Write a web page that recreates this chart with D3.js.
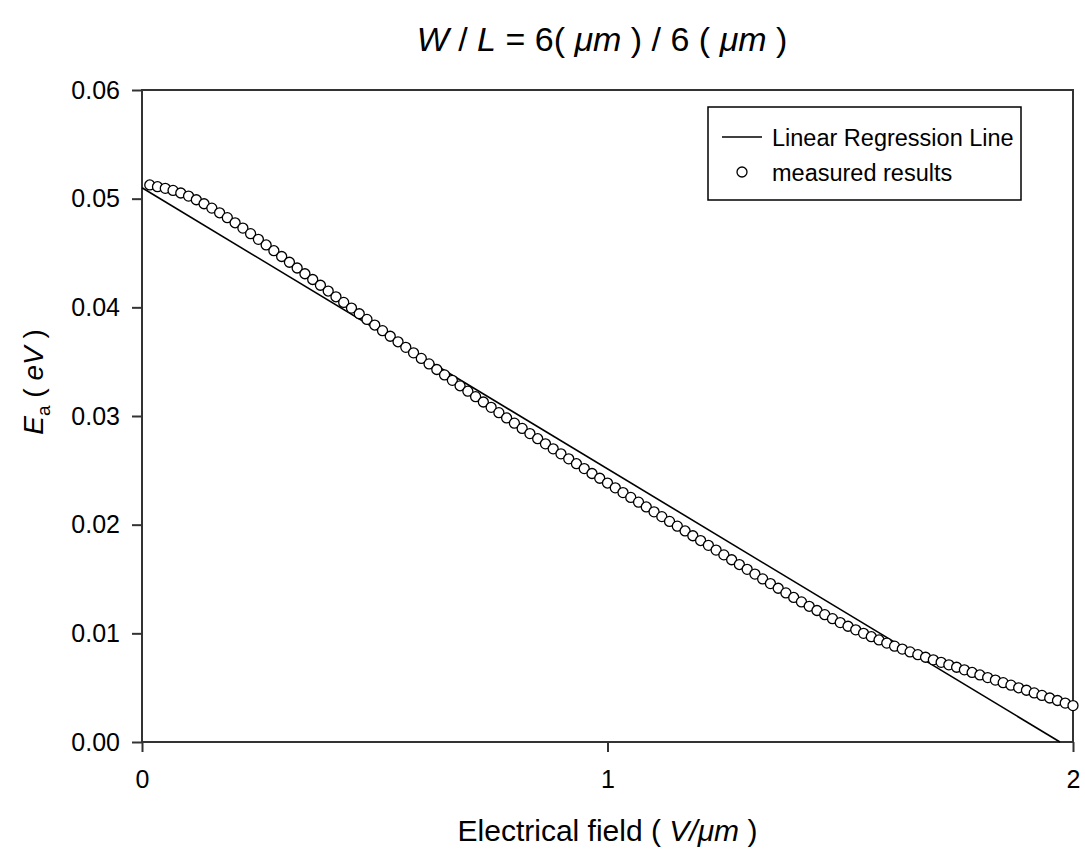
<!DOCTYPE html>
<html><head><meta charset="utf-8">
<script src="https://cdn.jsdelivr.net/npm/d3@7"></script>
<style>body{margin:0;background:#fff}svg{display:block;font-family:"Liberation Sans",Arial,sans-serif}</style>
</head><body><svg id="c" width="1085" height="854"></svg>
<script>
// ---- data ----
const fieldX = [0.0167,0.0333,0.05,0.0667,0.0833,0.1,0.1167,0.1333,0.15,0.1667,0.1833,0.2,0.2167,0.2333,0.25,0.2667,0.2833,0.3,0.3167,0.3333,0.35,0.3667,0.3833,0.4,0.4167,0.4333,0.45,0.4667,0.4833,0.5,0.5167,0.5333,0.55,0.5667,0.5833,0.6,0.6167,0.6333,0.65,0.6667,0.6833,0.7,0.7167,0.7333,0.75,0.7667,0.7833,0.8,0.8167,0.8333,0.85,0.8667,0.8833,0.9,0.9167,0.9333,0.95,0.9667,0.9833,1.0,1.0167,1.0333,1.05,1.0667,1.0833,1.1,1.1167,1.1333,1.15,1.1667,1.1833,1.2,1.2167,1.2333,1.25,1.2667,1.2833,1.3,1.3167,1.3333,1.35,1.3667,1.3833,1.4,1.4167,1.4333,1.45,1.4667,1.4833,1.5,1.5167,1.5333,1.55,1.5667,1.5833,1.6,1.6167,1.6333,1.65,1.6667,1.6833,1.7,1.7167,1.7333,1.75,1.7667,1.7833,1.8,1.8167,1.8333,1.85,1.8667,1.8833,1.9,1.9167,1.9333,1.95,1.9667,1.9833,2.0];
const measuredEa = [0.05126,0.05110,0.05095,0.05076,0.05052,0.05024,0.04990,0.04953,0.04913,0.04870,0.04825,0.04778,0.04729,0.04678,0.04626,0.04574,0.04521,0.04468,0.04415,0.04362,0.04309,0.04256,0.04203,0.04150,0.04097,0.04045,0.03993,0.03941,0.03889,0.03837,0.03785,0.03734,0.03683,0.03632,0.03581,0.03530,0.03479,0.03428,0.03378,0.03328,0.03278,0.03228,0.03178,0.03129,0.03080,0.03031,0.02982,0.02934,0.02886,0.02838,0.02791,0.02744,0.02698,0.02652,0.02606,0.02561,0.02516,0.02471,0.02427,0.02383,0.02339,0.02295,0.02251,0.02207,0.02163,0.02118,0.02074,0.02030,0.01986,0.01942,0.01898,0.01854,0.01810,0.01766,0.01722,0.01677,0.01633,0.01589,0.01545,0.01501,0.01458,0.01415,0.01372,0.01330,0.01289,0.01249,0.01210,0.01172,0.01135,0.01099,0.01065,0.01032,0.01000,0.00969,0.00939,0.00910,0.00882,0.00855,0.00829,0.00804,0.00780,0.00756,0.00733,0.00710,0.00688,0.00664,0.00640,0.00617,0.00593,0.00570,0.00546,0.00523,0.00499,0.00476,0.00452,0.00429,0.00405,0.00382,0.00358,0.00335];
const regressionX = [0, 1.972];
const regressionEa = [0.0510, 0];
const xTickValues = [0, 1, 2];
const yTickValues = [0, 0.01, 0.02, 0.03, 0.04, 0.05, 0.06];
const legendLabels = ["Linear Regression Line", "measured results"];

// ---- layout ----
const svg = d3.select("#c");
const L = 142, R = 1073, T = 90, B = 742;
const x = d3.scaleLinear().domain([0, 2]).range([L, R]);
const y = d3.scaleLinear().domain([0, 0.06]).range([B, T]);
const axisColor = "#333";
const ptR = 5;

// frame
svg.append("rect").attr("x", L).attr("y", T).attr("width", R - L).attr("height", B - T)
  .attr("fill", "none").attr("stroke", axisColor).attr("stroke-width", 2);

// axes
const yAxis = svg.append("g").attr("transform", `translate(${L},0)`)
  .call(d3.axisLeft(y).tickValues(yTickValues).tickSize(10).tickPadding(12).tickFormat(d3.format(".2f")));
const xAxis = svg.append("g").attr("transform", `translate(0,${B})`)
  .call(d3.axisBottom(x).tickValues(xTickValues).tickSize(10).tickPadding(18).tickFormat(d3.format("d")));
[yAxis, xAxis].forEach(g => {
  g.select(".domain").remove();
  g.selectAll(".tick line").attr("stroke", axisColor).attr("stroke-width", 2);
  g.selectAll(".tick text").attr("fill", "#000").style("font-size", "25px")
    .style("font-family", '"Liberation Sans",Arial,sans-serif');
});

// regression line
const regData = regressionX.map((d, i) => [d, regressionEa[i]]);
svg.append("path").datum(regData)
  .attr("d", d3.line().x(d => x(d[0])).y(d => y(d[1])))
  .attr("fill", "none").attr("stroke", "#000").attr("stroke-width", 1.6);

// measured points
svg.append("g").selectAll("circle").data(fieldX.map((d, i) => [d, measuredEa[i]]))
  .join("circle")
  .attr("cx", d => x(d[0])).attr("cy", d => y(d[1])).attr("r", ptR)
  .attr("fill", "#fff").attr("stroke", "#000").attr("stroke-width", 1.3);

// legend
const lg = svg.append("g");
lg.append("rect").attr("x", 708).attr("y", 107).attr("width", 313).attr("height", 93)
  .attr("fill", "#fff").attr("stroke", "#000").attr("stroke-width", 1.5);
lg.append("line").attr("x1", 722).attr("x2", 762).attr("y1", 137).attr("y2", 137)
  .attr("stroke", "#000").attr("stroke-width", 1.6);
lg.append("circle").attr("cx", 742).attr("cy", 172).attr("r", ptR)
  .attr("fill", "#fff").attr("stroke", "#000").attr("stroke-width", 1.3);
lg.selectAll("text").data(legendLabels).join("text")
  .attr("x", 772).attr("y", (d, i) => 146 + i * 35)
  .style("font-size", "23.5px").text(d => d);

// title
const title = svg.append("text").attr("x", 602).attr("y", 51).attr("text-anchor", "middle")
  .style("font-size", "34px");
title.append("tspan").style("font-style", "italic").text("W");
title.append("tspan").text(" / ");
title.append("tspan").style("font-style", "italic").text("L");
title.append("tspan").text(" = 6( ");
title.append("tspan").style("font-style", "italic").text("μm");
title.append("tspan").text(" ) / 6 ( ");
title.append("tspan").style("font-style", "italic").text("μm");
title.append("tspan").text(" )");

// x label
const xl = svg.append("text").attr("x", (L + R) / 2).attr("y", 841).attr("text-anchor", "middle")
  .style("font-size", "30px");
xl.append("tspan").text("Electrical field ( ");
xl.append("tspan").style("font-style", "italic").text("V/μm");
xl.append("tspan").text(" )");

// y label
const yl = svg.append("text").attr("transform", "translate(43,382) rotate(-90)")
  .attr("text-anchor", "middle").style("font-size", "28px");
yl.append("tspan").style("font-style", "italic").text("E");
yl.append("tspan").attr("dy", 7).style("font-size", "19px").text("a");
yl.append("tspan").attr("dy", -7).text(" ( ");
yl.append("tspan").style("font-style", "italic").text("eV");
yl.append("tspan").text(" )");
</script></body></html>
